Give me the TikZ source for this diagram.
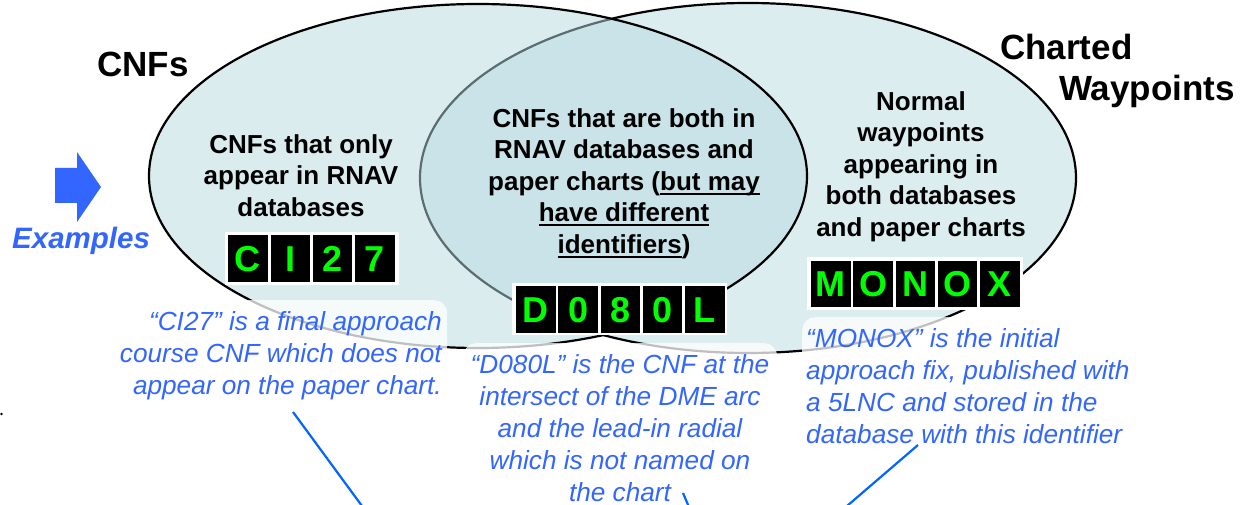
\documentclass[tikz,border=0pt]{standalone}
\usepackage{fontspec}
\setmainfont{Liberation Sans}
\definecolor{ellfill}{RGB}{220,237,240}
\definecolor{ellfillB}{RGB}{185,219,225}
\definecolor{txtblue}{RGB}{51,102,255}
\definecolor{lineblue}{RGB}{0,102,255}
\definecolor{codegreen}{RGB}{0,255,0}
\newcommand\myul[1]{\setbox0\hbox{#1}\rlap{\rule[-4.5pt]{\wd0}{1.8pt}}\box0}
\begin{document}
\begin{tikzpicture}[x=1pt,y=-1pt,
  ell/.style={line width=2.2pt},
  callbox/.style={fill=white, fill opacity=0.75, rounded corners=13pt, inner sep=0pt, anchor=north west},
  intext/.style={font=\bfseries\fontsize{26}{31.5}\selectfont, align=center, inner sep=0pt, anchor=north},
  calltext/.style={font=\itshape\fontsize{26.2}{32}\selectfont, text=txtblue, inner sep=0pt},
  title/.style={font=\bfseries\fontsize{35}{35}\selectfont, anchor=base west, inner sep=0pt},
  codebg/.style={fill=white, inner sep=0pt, anchor=north west},
  cell/.style={fill=black, text=codegreen, minimum width=39.5pt, minimum height=47pt, inner sep=0pt, anchor=north west, font=\bfseries\fontsize{36}{36}\selectfont},
  conn/.style={draw=lineblue, line width=2.2pt}
]
\useasboundingbox (0,0) rectangle (1256,505);
\fill[white] (0,0) rectangle (1256,505);

% ellipses
\draw[ell, fill=ellfill] (748,178) ellipse [x radius=328pt, y radius=175pt];
\fill[ellfillB, fill opacity=0.5] (478,176) ellipse [x radius=329pt, y radius=172pt];
\draw[ell] (478,176) ellipse [x radius=329pt, y radius=172pt];

% callout backgrounds
\node[callbox, minimum width=365pt, minimum height=93pt] (boxL) at (82,300) {};
\node[callbox, minimum width=314pt, minimum height=94pt] (boxM) at (463,343) {};
\node[callbox, minimum width=338pt, minimum height=93pt] (boxR) at (802,317) {};

% titles
\node[title] (tCNF) at (97,77) {CNFs};
\node[title] (tCh) at (1000,60) {Charted};
\node[title] (tWp) at (1059,101) {Waypoints};

% examples arrow
\fill[txtblue] (55,168) -- (77,168) -- (77,152) -- (101,187) -- (77,222) -- (77,203) -- (55,203) -- cycle;
\node[font=\bfseries\itshape\fontsize{29.5}{29.5}\selectfont, text=txtblue, anchor=base west, inner sep=0pt] (ex) at (12,249) {Examples};
\fill (1.5,414) circle (1.3pt);

% region texts
\node[intext] (tL) at (301,134) {CNFs that only\\appear in RNAV\\databases};
\node[intext] (tM) at (624,108) {CNFs that are both in\\RNAV databases and\\paper charts (\myul{but may}\\\myul{have different}\\\myul{identifiers})};
\node[intext] (tR) at (921,91) {Normal\\waypoints\\appearing in\\both databases\\and paper charts};

% code boxes
\node[codebg, minimum width=174pt, minimum height=53pt] (ciBox) at (224.5,231.5) {};
\foreach \ch [count=\i] in {C,I,2,7}
  \node[cell] (ci\i) at ({228+42.3*(\i-1)},235) {\ch};
\node[codebg, minimum width=215pt, minimum height=52pt] (dBox) at (512,283) {};
\foreach \ch [count=\i] in {D,0,8,0,L}
  \node[cell] (d\i) at ({516+42.2*(\i-1)},286) {\ch};
\node[codebg, minimum width=216pt, minimum height=53pt] (mBox) at (807,257) {};
\foreach \ch [count=\i] in {M,O,N,O,X}
  \node[cell, minimum height=46pt] (m\i) at ({811+42.2*(\i-1)},261) {\ch};

% callout texts
\node[calltext, align=right, anchor=north east] (cL) at (442,311.5) {“CI27” is a final approach\\course CNF which does not\\appear on the paper chart.};
\node[calltext, align=center, anchor=north, font=\itshape\fontsize{26.2}{32}\selectfont] (cM) at (620,354.5) {“D080L” is the CNF at the\\intersect of the DME arc\\and the lead-in radial\\which is not named on\\the chart};
\node[calltext, align=left, anchor=north west] (cR) at (806,328.5) {“MONOX” is the initial\\approach fix, published with\\a 5LNC and stored in the\\database with this identifier};

% connectors
\coordinate (lA) at (293,412); \coordinate (lB) at (362,506);
\coordinate (mA) at (683,493); \coordinate (mB) at (688.5,506);
\coordinate (rA) at (918,445); \coordinate (rB) at (847,506);
\draw[conn] (lA) -- (lB);
\draw[conn] (mA) -- (mB);
\draw[conn] (rA) -- (rB);
\end{tikzpicture}
\end{document}
